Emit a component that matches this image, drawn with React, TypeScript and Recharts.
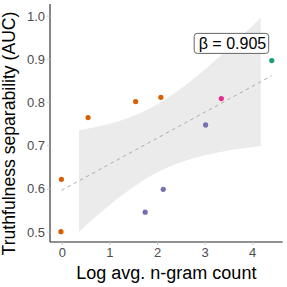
import React from "react";
import { ComposedChart, XAxis, YAxis, Area, Line, Scatter, Cell, ReferenceDot } from "recharts";

// Data points (log avg. n-gram count vs truthfulness separability AUC)
const pointX = [-0.02, -0.03, 0.54, 1.54, 2.07, 2.12, 1.74, 4.40, 3.34, 3.01];
const pointY = [0.622, 0.501, 0.765, 0.802, 0.812, 0.599, 0.546, 0.897, 0.809, 0.748];
const pointGroup = ["A", "A", "A", "A", "A", "B", "B", "C", "D", "B"];

// Regression line endpoints
const fitX = [-0.02, 4.40];
const fitY = [0.5965, 0.862];

// Confidence band
const bandX = [0.35, 0.6, 0.9, 1.2, 1.5, 1.8, 2.1, 2.4, 2.7, 3.0, 3.3, 3.6, 3.9, 4.17];
const bandLo = [0.501, 0.526, 0.554, 0.581, 0.605, 0.627, 0.644, 0.658, 0.669, 0.678, 0.685, 0.691, 0.695, 0.699];
const bandHi = [0.736, 0.741, 0.748, 0.757, 0.769, 0.784, 0.803, 0.825, 0.850, 0.877, 0.906, 0.937, 0.968, 0.997];

const xTicks = [0, 1, 2, 3, 4];
const yTicks = [0.5, 0.6, 0.7, 0.8, 0.9, 1.0];

const betaLabel = "β = 0.905";
const betaPos = { x: 3.553, y: 0.9368 };

const groupColors: Record<string, string> = {
  A: "#D95F02",
  B: "#7570B3",
  C: "#1B9E77",
  D: "#E7298A",
};

const FONT = "'Liberation Sans', Arial, Helvetica, sans-serif";

const bandRows = bandX.map((x, i) => ({ x, band: [bandLo[i], bandHi[i]] }));
const fitRows = fitX.map((x, i) => ({ x, y: fitY[i] }));
const pointRows = pointX.map((x, i) => ({ x, y: pointY[i], g: pointGroup[i] }));

const Dot = (p: any) => (
  <circle cx={p.cx} cy={p.cy} r={2.6} fill={groupColors[p.payload.g]} />
);

const BetaBox = (p: any) => {
  const w = 74.5;
  const h = 20;
  return (
    <g>
      <rect
        x={p.cx - w / 2}
        y={p.cy - h / 2}
        width={w}
        height={h}
        rx={3}
        ry={3}
        fill="#ffffff"
        stroke="#555555"
        strokeWidth={0.9}
      />
      <text
        x={p.cx + 1}
        y={p.cy + 5.6}
        textAnchor="middle"
        fontFamily={FONT}
        fontSize={16}
        fill="#000000"
      >
        {betaLabel}
      </text>
    </g>
  );
};

export default function App() {
  return (
    <div style={{ position: "absolute", left: 0, top: 0, width: 287, height: 287, background: "#fff" }}>
      <ComposedChart
        width={287}
        height={287}
        data={bandRows}
        margin={{ top: 4, right: 4.3, bottom: 0, left: 0 }}
      >
        <XAxis
          type="number"
          dataKey="x"
          domain={[-0.26, 4.63]}
          ticks={xTicks}
          allowDataOverflow
          height={45}
          tickSize={3}
          tickMargin={3}
          axisLine={{ stroke: "#222", strokeWidth: 1.1 }}
          tickLine={{ stroke: "#c8c8c8", strokeWidth: 1 }}
          tick={{ fill: "#4d4d4d", fontSize: 13, fontFamily: FONT }}
          label={{
            content: (props: any) => {
              const vb = props.viewBox || { x: 50, y: 242, width: 232.7 };
              return (
                <text
                  x={vb.x + vb.width / 2}
                  y={vb.y + 37.3}
                  textAnchor="middle"
                  fontFamily={FONT}
                  fontSize={18}
                  fill="#000"
                >
                  Log avg. n-gram count
                </text>
              );
            },
          }}
        />
        <YAxis
          type="number"
          domain={[0.477, 1.028]}
          ticks={yTicks}
          allowDataOverflow
          width={50}
          tickSize={3}
          tickMargin={2}
          tickFormatter={(v: number) => v.toFixed(1)}
          axisLine={{ stroke: "#222", strokeWidth: 1.1 }}
          tickLine={{ stroke: "#c8c8c8", strokeWidth: 1 }}
          tick={{ fill: "#4d4d4d", fontSize: 13, fontFamily: FONT }}
          label={{
            content: () => (
              <text
                x={15}
                y={133.5}
                transform="rotate(-90 15 133.5)"
                textAnchor="middle"
                fontFamily={FONT}
                fontSize={17.6}
                fill="#000"
              >
                Truthfulness separability (AUC)
              </text>
            ),
          }}
        />
        <Area
          dataKey="band"
          type="linear"
          stroke="none"
          fill="#ebebeb"
          fillOpacity={1}
          isAnimationActive={false}
          dot={false}
          activeDot={false}
        />
        <Line
          data={fitRows}
          dataKey="y"
          type="linear"
          stroke="#ababab"
          strokeWidth={1}
          strokeDasharray="3.5 3.5"
          dot={false}
          activeDot={false}
          isAnimationActive={false}
        />
        <Scatter data={pointRows} dataKey="y" shape={Dot} isAnimationActive={false}>
          {pointRows.map((r, i) => (
            <Cell key={i} fill={groupColors[r.g]} />
          ))}
        </Scatter>
        <ReferenceDot x={betaPos.x} y={betaPos.y} r={0} shape={BetaBox} ifOverflow="visible" />
      </ComposedChart>
    </div>
  );
}
